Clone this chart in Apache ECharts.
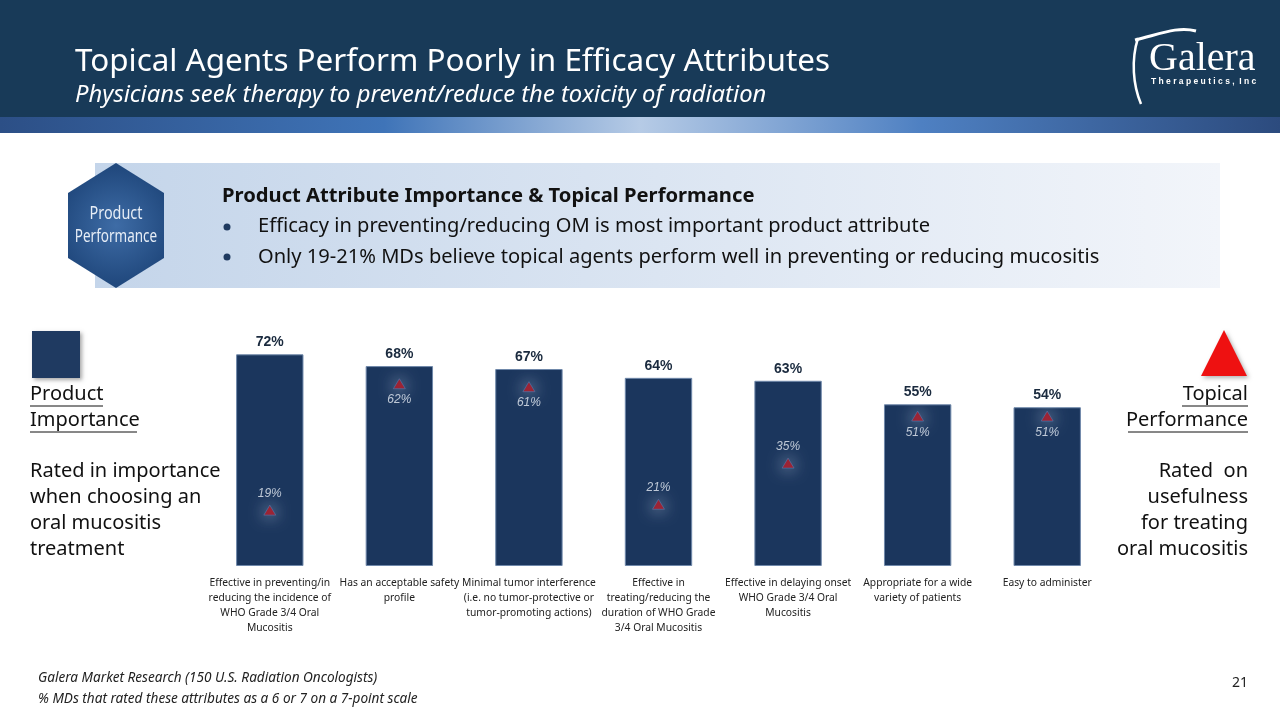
<!DOCTYPE html>
<html>
<head>
<meta charset="utf-8">
<script src="https://cdn.jsdelivr.net/npm/echarts@6/dist/echarts.min.js"></script>
<style>
html,body{margin:0;padding:0;background:#fff;}
#c{width:1280px;height:720px;}
</style>
</head>
<body>
<div id="c"></div>
<script>
// ---- data ----
const categories = [
  "Effective in preventing/in\nreducing the incidence of\nWHO Grade 3/4 Oral\nMucositis",
  "Has an acceptable safety\nprofile",
  "Minimal tumor interference\n(i.e. no tumor-protective or\ntumor-promoting actions)",
  "Effective in\ntreating/reducing the\nduration of WHO Grade\n3/4 Oral Mucositis",
  "Effective in delaying onset\nWHO Grade 3/4 Oral\nMucositis",
  "Appropriate for a wide\nvariety of patients",
  "Easy to administer"
];
const importance = [72, 68, 67, 64, 63, 55, 54];
const topicalPerformance = [19, 62, 61, 21, 35, 51, 51];

const chart = echarts.init(document.getElementById('c'), null, {renderer: 'canvas'});

const sans = '"Noto Sans", "Open Sans", sans-serif';
const arial = '"Liberation Sans", Arial, sans-serif';

const perfData = topicalPerformance.map((v, i) => {
  const close = importance[i] - v < 10;
  return {
    value: v,
    label: {position: close ? 'bottom' : 'top', distance: 5}
  };
});

const graphics = [
  // header
  {type: 'rect', shape: {x: 0, y: 0, width: 1280, height: 117}, style: {fill: '#183a58'}, z: 0},
  {type: 'rect', shape: {x: 0, y: 117, width: 1280, height: 16}, style: {fill: {type: 'linear', x: 0, y: 0, x2: 1, y2: 0, colorStops: [
    {offset: 0, color: '#2c4f86'}, {offset: 0.3, color: '#3f74b8'}, {offset: 0.5, color: '#b6cbe6'},
    {offset: 0.72, color: '#4e80c2'}, {offset: 1, color: '#2c4b7e'}]}}, z: 0},
  {type: 'text', style: {text: 'Topical Agents Perform Poorly in Efficacy Attributes', x: 75, y: 62, font: '31.4px ' + sans, fill: '#ffffff', verticalAlign: 'middle'}},
  {type: 'text', style: {text: 'Physicians seek therapy to prevent/reduce the toxicity of radiation', x: 75, y: 95, font: 'italic 23.8px ' + sans, fill: '#ffffff', verticalAlign: 'middle'}},
  // logo
  {type: 'bezierCurve', shape: {x1: 1135, y1: 40, x2: 1196, y2: 31, cpx1: 1160, cpy1: 34, cpx2: 1178, cpy2: 26}, style: {stroke: '#ffffff', lineWidth: 3, fill: null}},
  {type: 'bezierCurve', shape: {x1: 1138, y1: 38, x2: 1141, y2: 104, cpx1: 1131, cpy1: 60, cpx2: 1133, cpy2: 85}, style: {stroke: '#ffffff', lineWidth: 2.5, fill: null}},
  {type: 'text', style: {text: 'Galera', x: 1149, y: 59, font: '40px "Liberation Serif", "DejaVu Serif", serif', fill: '#ffffff', verticalAlign: 'middle'}},
  {type: 'text', style: {text: 'T h e r a p e u t i c s ,  I n c', x: 1151, y: 82, font: 'bold 8.5px ' + arial, fill: '#ffffff', verticalAlign: 'middle'}},
  // info band
  {type: 'rect', shape: {x: 95, y: 163, width: 1125, height: 125}, style: {fill: {type: 'linear', x: 0, y: 0, x2: 1, y2: 0, colorStops: [
    {offset: 0, color: '#c4d5ea'}, {offset: 1, color: '#f2f5fa'}]}}},
  {type: 'polygon', shape: {points: [[116, 163], [164, 193], [164, 258], [116, 288], [68, 258], [68, 193]]}, style: {fill: {type: 'radial', x: 0.5, y: 0.5, r: 0.6, colorStops: [
    {offset: 0, color: '#3e6ca6'}, {offset: 1, color: '#21497e'}]}}},
  {type: 'text', x: 116, y: 214, scaleX: 0.8, style: {text: 'Product', x: 0, y: 0, font: '18px ' + sans, fill: '#e6edf6', align: 'center', verticalAlign: 'middle'}},
  {type: 'text', x: 116, y: 237, scaleX: 0.75, style: {text: 'Performance', x: 0, y: 0, font: '18px ' + sans, fill: '#e6edf6', align: 'center', verticalAlign: 'middle'}},
  {type: 'text', style: {text: 'Product Attribute Importance & Topical Performance', x: 222, y: 196, font: 'bold 20.2px ' + sans, fill: '#111111', verticalAlign: 'middle'}},
  {type: 'circle', shape: {cx: 227, cy: 227, r: 3.5}, style: {fill: '#1f3a60'}},
  {type: 'circle', shape: {cx: 227, cy: 257, r: 3.5}, style: {fill: '#1f3a60'}},
  {type: 'text', style: {text: 'Efficacy in preventing/reducing OM is most important product attribute', x: 258, y: 226, font: '20.1px ' + sans, fill: '#111111', verticalAlign: 'middle'}},
  {type: 'text', style: {text: 'Only 19-21% MDs believe topical agents perform well in preventing or reducing mucositis', x: 258, y: 257, font: '20.1px ' + sans, fill: '#111111', verticalAlign: 'middle'}},
  // left legend
  {type: 'rect', shape: {x: 32, y: 331, width: 48, height: 47}, style: {fill: '#1f3a61', shadowBlur: 4, shadowOffsetX: 2, shadowOffsetY: 2, shadowColor: 'rgba(0,0,0,0.35)'}},
  {type: 'text', style: {text: 'Product', x: 30, y: 394, font: '20px ' + sans, fill: '#111111', verticalAlign: 'middle'}},
  {type: 'text', style: {text: 'Importance', x: 30, y: 420, font: '20px ' + sans, fill: '#111111', verticalAlign: 'middle'}},
  {type: 'line', shape: {x1: 30, y1: 406, x2: 103, y2: 406}, style: {stroke: '#111111', lineWidth: 1}},
  {type: 'line', shape: {x1: 30, y1: 432, x2: 137, y2: 432}, style: {stroke: '#111111', lineWidth: 1}},
  {type: 'text', style: {text: 'Rated in importance\nwhen choosing an\noral mucositis\ntreatment', x: 30, y: 458, font: '20px ' + sans, lineHeight: 26, fill: '#111111'}},
  // right legend
  {type: 'polygon', shape: {points: [[1224, 330], [1247, 376], [1201, 376]]}, style: {fill: '#ee1111', shadowBlur: 4, shadowOffsetX: 2, shadowOffsetY: 2, shadowColor: 'rgba(0,0,0,0.3)'}},
  {type: 'text', style: {text: 'Topical', x: 1248, y: 394, font: '20px ' + sans, fill: '#111111', align: 'right', verticalAlign: 'middle'}},
  {type: 'text', style: {text: 'Performance', x: 1248, y: 420, font: '20px ' + sans, fill: '#111111', align: 'right', verticalAlign: 'middle'}},
  {type: 'line', shape: {x1: 1182, y1: 406, x2: 1248, y2: 406}, style: {stroke: '#111111', lineWidth: 1}},
  {type: 'line', shape: {x1: 1128, y1: 432, x2: 1248, y2: 432}, style: {stroke: '#111111', lineWidth: 1}},
  {type: 'text', style: {text: 'Rated  on\nusefulness\nfor treating\noral mucositis', x: 1248, y: 458, font: '20px ' + sans, lineHeight: 26, fill: '#111111', align: 'right'}},
  // footer
  {type: 'text', style: {text: 'Galera Market Research (150 U.S. Radiation Oncologists)', x: 38, y: 678, font: 'italic 13.6px ' + sans, fill: '#222222', verticalAlign: 'middle'}},
  {type: 'text', style: {text: '% MDs that rated these attributes as a 6 or 7 on a 7-point scale', x: 38, y: 699, font: 'italic 13.6px ' + sans, fill: '#222222', verticalAlign: 'middle'}},
  {type: 'text', style: {text: '21', x: 1248, y: 683, font: '14px ' + sans, fill: '#222222', align: 'right', verticalAlign: 'middle'}}
];

chart.setOption({
  animation: false,
  backgroundColor: '#ffffff',
  grid: {left: 205, right: 168, top: 272, bottom: 154},
  xAxis: {
    type: 'category',
    data: categories,
    axisLine: {show: false},
    axisTick: {show: false},
    axisLabel: {interval: 0, margin: 10, fontFamily: sans, fontSize: 10.3, lineHeight: 15, color: '#222222', align: 'center'}
  },
  yAxis: {type: 'value', min: 0, max: 100, show: false},
  graphic: graphics,
  series: [
    {
      type: 'bar',
      data: importance,
      barWidth: '52%',
      itemStyle: {color: '#1b365d', borderColor: '#6f88aa', borderWidth: 1},
      label: {show: true, position: 'top', distance: 5, formatter: '{c}%', fontFamily: arial, fontWeight: 'bold', fontSize: 14, color: '#1a2a3e'},
      z: 2
    },
    {
      type: 'scatter',
      data: perfData,
      symbol: 'triangle',
      symbolSize: [12, 10],
      itemStyle: {color: '#b5121b', borderColor: '#4f79b0', borderWidth: 0.8, shadowBlur: 16, shadowColor: 'rgba(215,226,242,1)'},
      label: {show: true, formatter: '{c}%', fontFamily: arial, fontStyle: 'italic', fontSize: 12, color: '#e6ecf4'},
      z: 3
    }
  ]
});
</script>
</body>
</html>
